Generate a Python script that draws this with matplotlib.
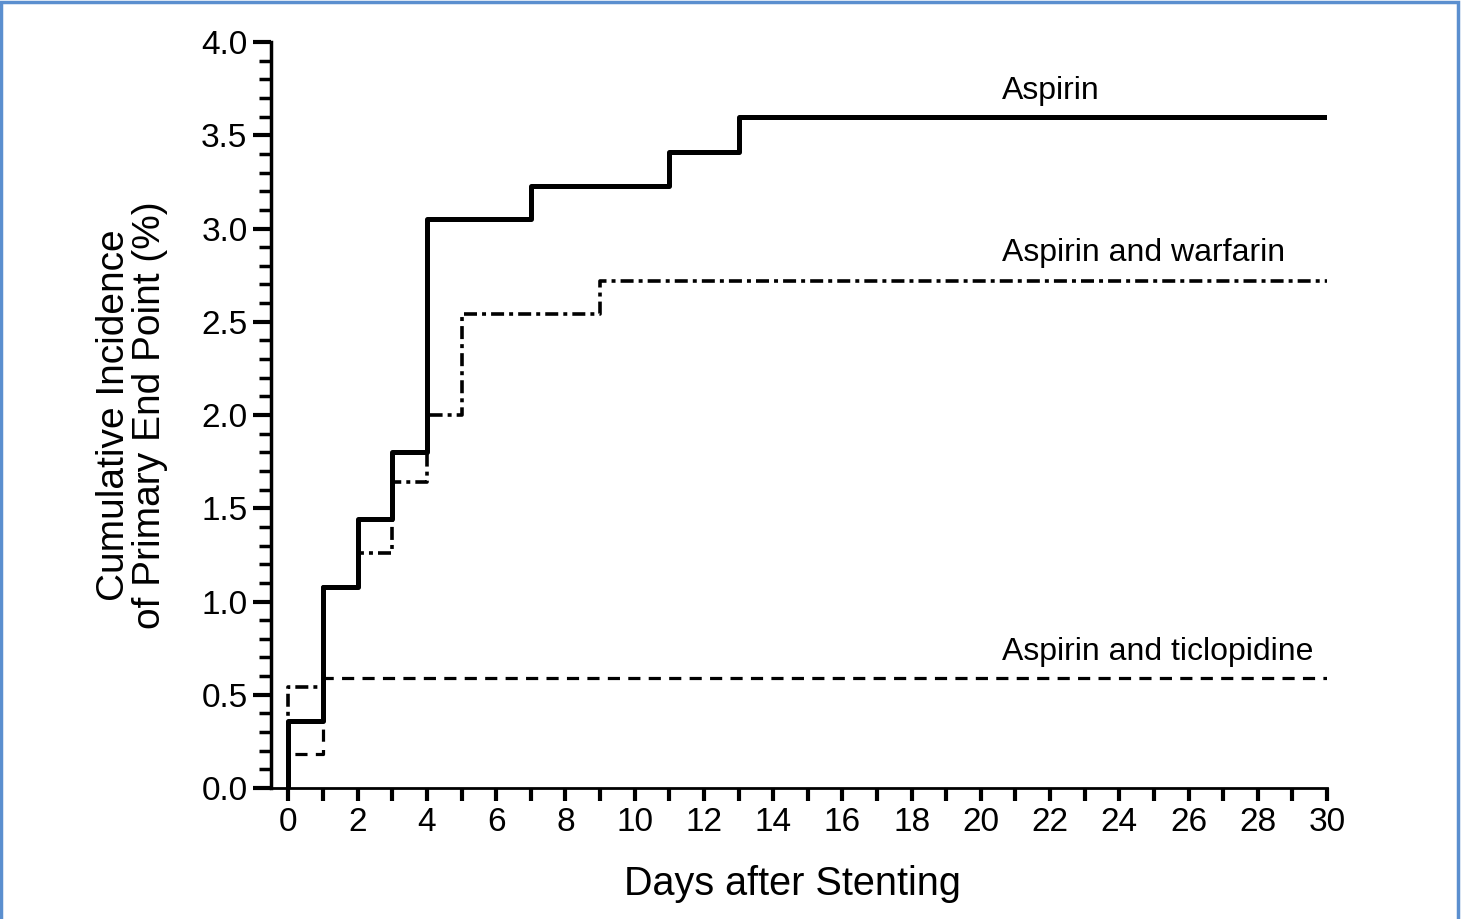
import numpy as np
import matplotlib.pyplot as plt
from matplotlib.ticker import MultipleLocator
from matplotlib.patches import Rectangle

plt.rcParams['font.family'] = ['Liberation Sans', 'DejaVu Sans']

# step curves: day of each step and incidence (%) after it
aspirin_days = [0, 0, 1, 2, 3, 4, 7, 11, 13, 30]
aspirin_vals = [0.0, 0.36, 1.08, 1.44, 1.80, 3.05, 3.23, 3.41, 3.60, 3.60]

warfarin_days = [0, 0, 1, 2, 3, 4, 5, 9, 30]
warfarin_vals = [0.0, 0.54, 1.08, 1.26, 1.64, 2.00, 2.54, 2.72, 2.72]

ticlo_days = [0, 0, 1, 30]
ticlo_vals = [0.0, 0.18, 0.59, 0.59]

labels = ['Aspirin', 'Aspirin and warfarin', 'Aspirin and ticlopidine']

fig = plt.figure(figsize=(14.61, 9.19), dpi=100)
ax = fig.add_axes([0.1766, 0.1425, 0.7317, 0.8118])

ax.step(ticlo_days, ticlo_vals, where='post', color='black', lw=2.3,
        linestyle=(0, (3.8, 2.6)))
ax.step(warfarin_days, warfarin_vals, where='post', color='black', lw=2.6,
        linestyle=(0, (3.6, 1.4, 1.1, 1.4)))
ax.step(aspirin_days, aspirin_vals, where='post', color='black', lw=3.6)

ax.text(20.6, aspirin_vals[-1] + 0.095, labels[0], fontsize=23, va='baseline')
ax.text(20.6, warfarin_vals[-1] + 0.105, labels[1], fontsize=23, va='baseline')
ax.text(20.6, ticlo_vals[-1] + 0.095, labels[2], fontsize=23, va='baseline')

ax.set_xlim(-0.88, 30)
ax.set_ylim(0, 4.0)
ax.spines['top'].set_visible(False)
ax.spines['right'].set_visible(False)
ax.spines['left'].set_position(('data', -0.5))
ax.spines['left'].set_linewidth(2.5)
ax.spines['bottom'].set_linewidth(2.0)

ax.xaxis.set_major_locator(MultipleLocator(2))
ax.xaxis.set_minor_locator(MultipleLocator(1))
ax.yaxis.set_major_locator(MultipleLocator(0.5))
ax.yaxis.set_minor_locator(MultipleLocator(0.1))
ax.yaxis.set_major_formatter(plt.FormatStrFormatter('%.1f'))

ax.tick_params(axis='x', which='both', direction='out', length=9, width=3,
               labelsize=24, pad=5)
ax.tick_params(axis='y', which='major', direction='out', length=13, width=3,
               labelsize=24, pad=4)
ax.tick_params(axis='y', which='minor', direction='out', length=9, width=2.5)

ax.set_xlabel('Days after Stenting', fontsize=28.5, labelpad=19)
ax.set_ylabel('Cumulative Incidence\nof Primary End Point (%)', fontsize=28,
              labelpad=24, linespacing=1.0)

fig.patches.append(Rectangle((0.001, -0.01), 0.997, 1.008, transform=fig.transFigure,
                             fill=False, edgecolor='#5b8fcf', lw=2.5))

fig.savefig('out.png', dpi=100)
